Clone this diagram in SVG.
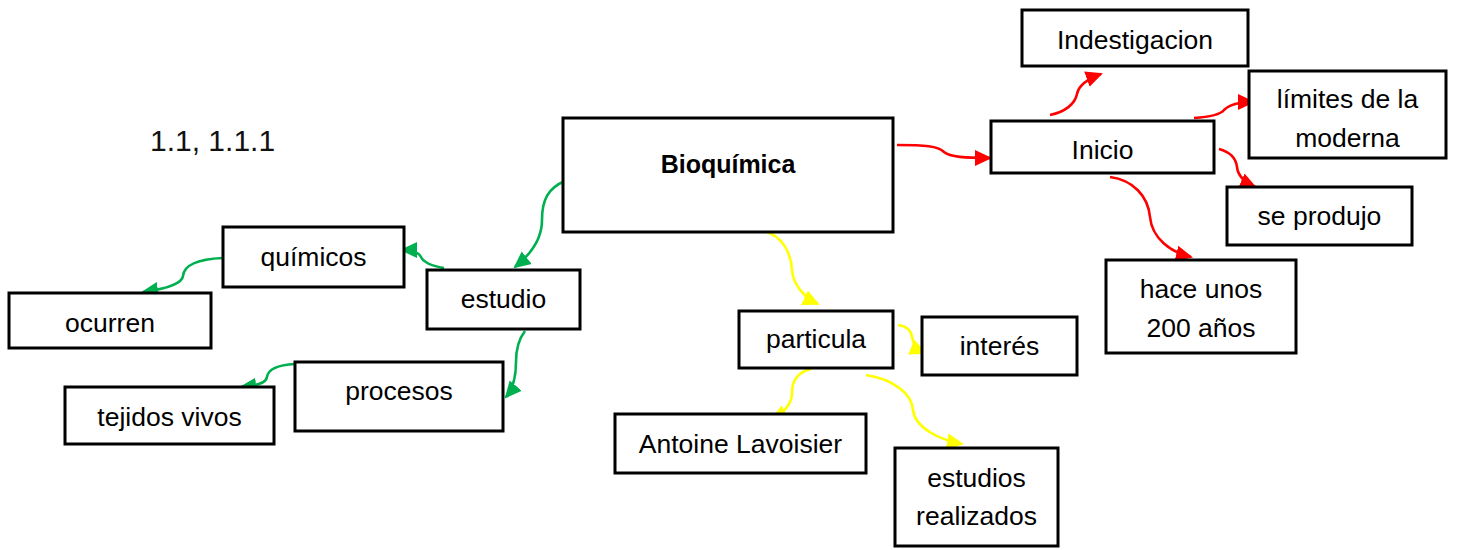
<svg xmlns="http://www.w3.org/2000/svg" width="1457" height="550" viewBox="0 0 1457 550">
<style>
.box{fill:#fff;stroke:#000;stroke-width:3}
.t{font-family:"Liberation Sans",Arial,sans-serif;font-size:26.5px;fill:#000;text-anchor:middle}
.b{font-weight:bold;font-size:25px}
.g{fill:none;stroke:#00B050;stroke-width:2.6}
.y{fill:none;stroke:#FFFF00;stroke-width:2.6}
.r{fill:none;stroke:#FF0000;stroke-width:2.6}
</style>
<defs>
<marker id="ag" markerUnits="userSpaceOnUse" markerWidth="17" markerHeight="17" viewBox="0 0 17 17" refX="15" refY="8.5" orient="auto"><path d="M0,0.5 L17,8.5 L0,16.5 z" fill="#00B050"/></marker>
<marker id="ay" markerUnits="userSpaceOnUse" markerWidth="17" markerHeight="17" viewBox="0 0 17 17" refX="15" refY="8.5" orient="auto"><path d="M0,0.5 L17,8.5 L0,16.5 z" fill="#FFFF00"/></marker>
<marker id="ar" markerUnits="userSpaceOnUse" markerWidth="17" markerHeight="17" viewBox="0 0 17 17" refX="15" refY="8.5" orient="auto"><path d="M0,0.5 L17,8.5 L0,16.5 z" fill="#FF0000"/></marker>
</defs>
<rect width="1457" height="550" fill="#fff"/>
<text x="150" y="151" style="font-family:'Liberation Sans',Arial,sans-serif;font-size:30px;fill:#111">1.1, 1.1.1</text>
<g id="connectors">
<path class="g" marker-end="url(#ag)" d="M565,181 C548,188 542,200 542,220 C542,240 530,255 515,267"/>
<path class="g" marker-end="url(#ag)" d="M444,268 C432,266 424,263 421,257 C418,251 410,250 402,250"/>
<path class="g" marker-end="url(#ag)" d="M223,258 C200,259 184,264 183,276 C182,284 165,289 143,292"/>
<path class="g" marker-end="url(#ag)" d="M525,331 C518,340 516,350 516,362 C516,378 512,390 506,397"/>
<path class="g" marker-end="url(#ag)" d="M295,364 C278,365 268,369 267,377 C266,384 254,386 241,387"/>
<path class="y" marker-end="url(#ay)" d="M764,231 C782,236 791,252 792,270 C793,285 805,298 818,304"/>
<path class="y" marker-end="url(#ay)" d="M898,325 C906,326 911,330 912,337 C913,344 918,350 925,353"/>
<path class="y" marker-end="url(#ay)" d="M811,369 C798,372 792,380 792,393 C792,405 782,414 772,419"/>
<path class="y" marker-end="url(#ay)" d="M866,375 C892,379 912,393 913,410 C915,428 940,440 962,444"/>
<path class="r" marker-end="url(#ar)" d="M897,145 C925,145 938,146 944,152 C950,157 965,158 990,158"/>
<path class="r" marker-end="url(#ar)" d="M1050,115 C1065,112 1075,104 1077,94 C1079,84 1090,78 1101,74"/>
<path class="r" marker-end="url(#ar)" d="M1194,118 C1210,117 1220,115 1224,110 C1230,104 1240,102 1253,102"/>
<path class="r" marker-end="url(#ar)" d="M1219,149 C1230,152 1236,158 1237,167 C1238,176 1246,183 1255,187"/>
<path class="r" marker-end="url(#ar)" d="M1110,177 C1133,180 1148,196 1150,217 C1152,238 1170,252 1191,257"/>
</g>
<g id="bioquimica"><rect class="box" x="563" y="118" width="330" height="114"/><text class="t b" x="728" y="173">Bioquímica</text></g>
<g id="indestigacion"><rect class="box" x="1022" y="10" width="226" height="56"/><text class="t" x="1135" y="49">Indestigacion</text></g>
<g id="inicio"><rect class="box" x="991" y="121" width="223" height="52"/><text class="t" x="1102.5" y="159">Inicio</text></g>
<g id="limites"><rect class="box" x="1249" y="71" width="197" height="87"/><text class="t" x="1347.5" y="108">límites de la</text><text class="t" x="1347.5" y="147">moderna</text></g>
<g id="seprodujo"><rect class="box" x="1227" y="187" width="185" height="58"/><text class="t" x="1319.5" y="225">se produjo</text></g>
<g id="haceunos"><rect class="box" x="1106" y="260" width="190" height="93"/><text class="t" x="1201" y="298">hace unos</text><text class="t" x="1201" y="337">200 años</text></g>
<g id="particula"><rect class="box" x="739" y="311" width="154" height="57"/><text class="t" x="816" y="348">particula</text></g>
<g id="interes"><rect class="box" x="922" y="317" width="155" height="58"/><text class="t" x="999.5" y="355">interés</text></g>
<g id="lavoisier"><rect class="box" x="615" y="414" width="251" height="59"/><text class="t" x="740.5" y="453">Antoine Lavoisier</text></g>
<g id="estudios"><rect class="box" x="895" y="448" width="163" height="98"/><text class="t" x="976.5" y="487">estudios</text><text class="t" x="976.5" y="525">realizados</text></g>
<g id="estudio"><rect class="box" x="427" y="270" width="153" height="59"/><text class="t" x="503.5" y="308">estudio</text></g>
<g id="quimicos"><rect class="box" x="223" y="227" width="181" height="60"/><text class="t" x="313.5" y="266">químicos</text></g>
<g id="ocurren"><rect class="box" x="9" y="293" width="202" height="55"/><text class="t" x="110" y="332">ocurren</text></g>
<g id="procesos"><rect class="box" x="295" y="362" width="208" height="69"/><text class="t" x="399" y="400">procesos</text></g>
<g id="tejidos"><rect class="box" x="65" y="387" width="209" height="57"/><text class="t" x="169.5" y="426">tejidos vivos</text></g>
</svg>
